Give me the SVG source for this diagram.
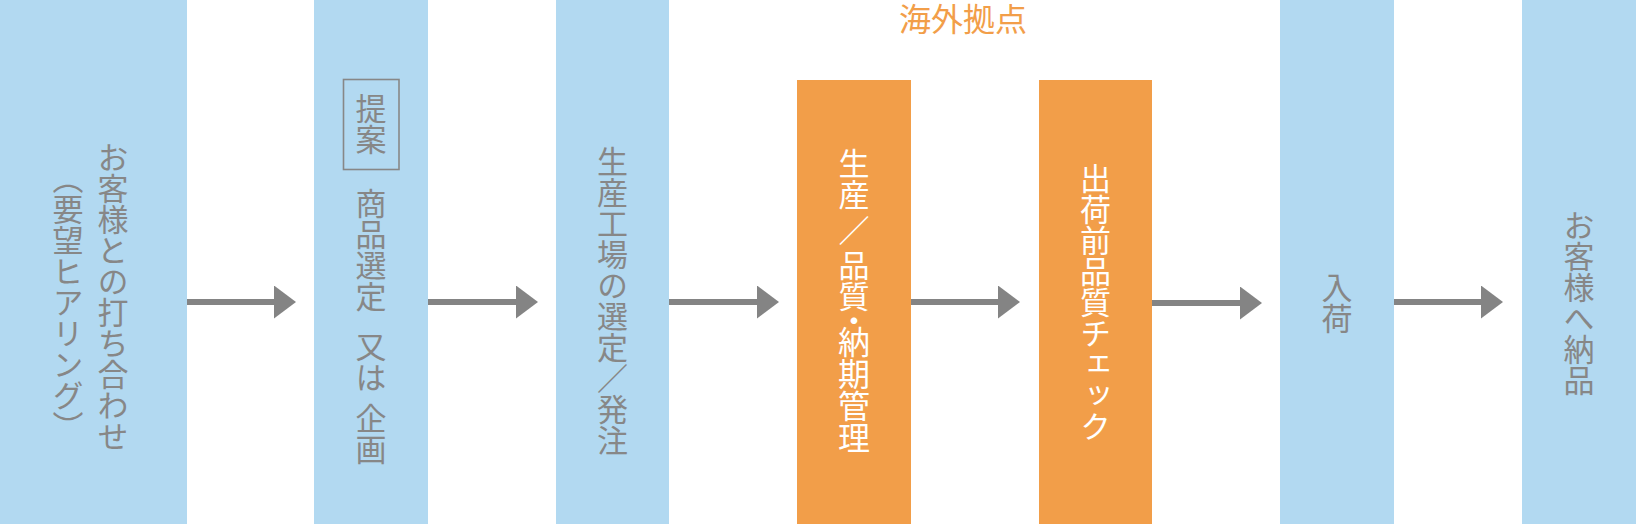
<svg xmlns="http://www.w3.org/2000/svg" width="1636" height="524" viewBox="0 0 1636 524">
<defs>
<style>
.blue{fill:#b2d9f1;}
.orange{fill:#f29e49;}
.t{font-family:"Noto Sans CJK JP","Noto Sans CJK SC",sans-serif;font-size:31px;font-weight:400;}
.v{writing-mode:vertical-rl;text-anchor:middle;}
.vs{writing-mode:vertical-rl;text-anchor:start;}
.g{fill:#878787;}
.w{fill:#ffffff;}
.o{fill:#f29e49;}
.conn line{stroke:#848484;stroke-width:6;}
</style>
<marker id="ah" markerUnits="userSpaceOnUse" markerWidth="22" markerHeight="33" refX="0" refY="16.5" orient="auto" viewBox="0 0 22 33">
<path d="M0,0 L22,16.5 L0,33 Z" fill="#848484"/>
</marker>
</defs>
<rect width="1636" height="524" fill="#ffffff"/>
<g id="title">
<text class="t o" x="963" y="31" text-anchor="middle" style="font-size:32px">海外拠点</text>
</g>
<g id="node1">
<rect class="blue" x="0" y="0" width="187" height="524"/>
<text class="t g v" x="113" y="297">お客様との打ち合わせ</text>
<text class="t g v" x="68" y="302">（要望ヒアリング）</text>
</g>
<g id="node2">
<rect class="blue" x="314" y="0" width="114" height="524"/>
<rect x="343.5" y="79.5" width="55.5" height="90" fill="none" stroke="#878787" stroke-width="1.6"/>
<text class="t g v" x="371" y="124">提案</text>
<text class="t g vs" x="371" y="188">商品選定</text>
<text class="t g vs" x="371" y="331">又は</text>
<text class="t g vs" x="371" y="403">企画</text>
</g>
<g id="node3">
<rect class="blue" x="556" y="0" width="113" height="524"/>
<text class="t g v" x="612.5" y="301">生産工場の選定／発注</text>
</g>
<g id="node4">
<rect class="orange" x="797" y="80" width="114" height="444"/>
<text class="t w vs" x="854" y="148">生産</text>
<text class="t w v" x="854" y="230.5">／</text>
<text class="t w vs" x="854" y="250">品質</text>
<text class="t w v" x="854" y="320">・</text>
<text class="t w vs" x="854" y="326" style="font-size:32px">納期管理</text>
</g>
<g id="node5">
<rect class="orange" x="1039" y="80" width="113" height="444"/>
<text class="t w v" x="1095.5" y="302.5">出荷前品質チェック</text>
</g>
<g id="node6">
<rect class="blue" x="1280" y="0" width="114" height="524"/>
<text class="t g v" x="1337" y="302.5">入荷</text>
</g>
<g id="node7">
<rect class="blue" x="1522" y="0" width="114" height="524"/>
<text class="t g v" x="1579" y="302.5">お客様へ納品</text>
</g>
<g id="connectors" class="conn">
<line x1="187" y1="302" x2="274" y2="302" marker-end="url(#ah)"/>
<line x1="428" y1="302" x2="516" y2="302" marker-end="url(#ah)"/>
<line x1="669" y1="302" x2="757" y2="302" marker-end="url(#ah)"/>
<line x1="911" y1="302" x2="998" y2="302" marker-end="url(#ah)"/>
<line x1="1152" y1="303" x2="1240" y2="303" marker-end="url(#ah)"/>
<line x1="1394" y1="302" x2="1481" y2="302" marker-end="url(#ah)"/>
</g>
</svg>
